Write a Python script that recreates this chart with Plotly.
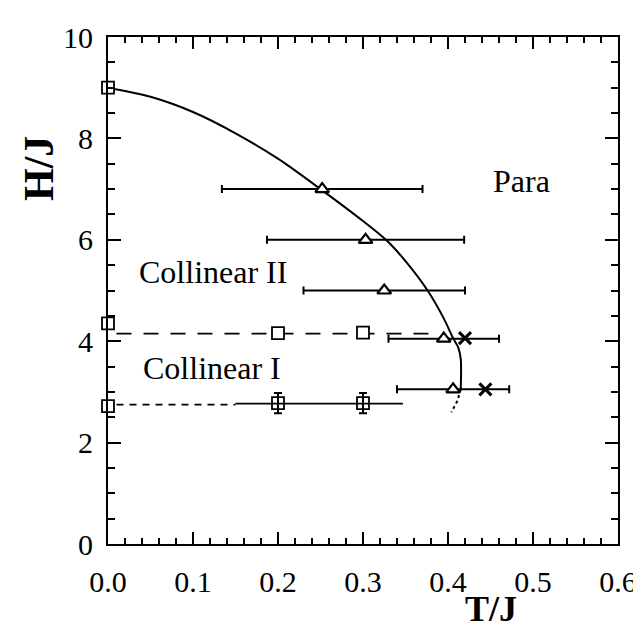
import plotly.graph_objects as go

# ---- data ----
# phase boundary (solid curve) and its dotted tail
curve_T = [0.0, 0.05, 0.10, 0.15, 0.20, 0.25, 0.30, 0.327, 0.35, 0.376, 0.395, 0.406, 0.412, 0.415, 0.415]
curve_H = [9.0, 8.82, 8.52, 8.1, 7.6, 7.0, 6.37, 6.0, 5.58, 5.0, 4.45, 4.06, 3.88, 3.65, 3.05]
tail_T = [0.415, 0.411, 0.404]
tail_H = [3.05, 2.82, 2.6]

# triangles with horizontal error bars
tri_T = [0.252, 0.303, 0.325, 0.395, 0.406]
tri_H = [7.0, 6.0, 5.0, 4.05, 3.05]
tri_err = [0.118, 0.116, 0.095, 0.065, 0.066]

# crosses
cross_T = [0.42, 0.444]
cross_H = [4.06, 3.05]

# squares at T = 0
sq0_T = [0.0, 0.0, 0.0]
sq0_H = [9.0, 4.35, 2.72]

# squares on the upper dashed line
sqA_T = [0.2, 0.3]
sqA_H = [4.16, 4.17]

# squares with vertical error bars on the lower line
sqB_T = [0.2, 0.3]
sqB_H = [2.78, 2.78]
sqB_err = [0.2, 0.2]

# guide lines
dashA_T = [0.01, 0.38]
dashA_H = [4.15, 4.15]
dashB_T = [0.01, 0.15]
dashB_H = [2.75, 2.75]
solidB_T = [0.15, 0.347]
solidB_H = [2.77, 2.77]

# region labels
label_text = ["Para", "Collinear II", "Collinear I"]
label_T = [0.486, 0.123, 0.122]
label_H = [7.15, 5.36, 3.48]

x_ticks = [0.0, 0.1, 0.2, 0.3, 0.4, 0.5, 0.6]
x_ticktext = ["0.0", "0.1", "0.2", "0.3", "0.4", "0.5", "0.6"]
y_ticks = [0, 2, 4, 6, 8, 10]

FONT = "Liberation Serif"
BLACK = "black"

fig = go.Figure()

fig.add_trace(go.Scatter(x=dashA_T, y=dashA_H, mode="lines",
                         line=dict(color=BLACK, width=1.8, dash="15px,12px")))
fig.add_trace(go.Scatter(x=dashB_T, y=dashB_H, mode="lines",
                         line=dict(color=BLACK, width=1.8, dash="7px,6px")))
fig.add_trace(go.Scatter(x=solidB_T, y=solidB_H, mode="lines",
                         line=dict(color=BLACK, width=1.8)))
fig.add_trace(go.Scatter(x=curve_T, y=curve_H, mode="lines",
                         line=dict(color=BLACK, width=2, shape="spline", smoothing=0.8),
                         cliponaxis=False))
fig.add_trace(go.Scatter(x=tail_T, y=tail_H, mode="lines",
                         line=dict(color=BLACK, width=2, dash="dot")))

fig.add_trace(go.Scatter(
    x=tri_T, y=tri_H, mode="markers",
    marker=dict(symbol="triangle-up", size=12, color="white",
                line=dict(color=BLACK, width=2.2)),
    error_x=dict(type="data", array=tri_err, color=BLACK, thickness=2, width=4)))

fig.add_trace(go.Scatter(
    x=cross_T, y=cross_H, mode="markers",
    marker=dict(symbol="x-thin", size=12, line=dict(color=BLACK, width=3))))

fig.add_trace(go.Scatter(
    x=sq0_T, y=sq0_H, mode="markers", cliponaxis=False,
    marker=dict(symbol="square", size=12, color="white",
                line=dict(color=BLACK, width=1.8))))
fig.add_trace(go.Scatter(
    x=sqA_T, y=sqA_H, mode="markers",
    marker=dict(symbol="square", size=12, color="white",
                line=dict(color=BLACK, width=1.8))))
fig.add_trace(go.Scatter(
    x=sqB_T, y=sqB_H, mode="markers",
    marker=dict(symbol="square-open", size=12, color=BLACK,
                line=dict(color=BLACK, width=1.8)),
    error_y=dict(type="data", array=sqB_err, color=BLACK, thickness=2, width=4)))

for t, x, y in zip(label_text, label_T, label_H):
    fig.add_annotation(x=x, y=y, text=t, showarrow=False,
                       font=dict(family=FONT, size=32, color=BLACK))

fig.add_annotation(xref="paper", yref="paper", x=0.75, y=-0.128, text="<b>T/J</b>",
                   showarrow=False, xanchor="center", yanchor="middle",
                   font=dict(family=FONT, size=36, color=BLACK))
fig.add_annotation(xref="paper", yref="paper", x=-0.135, y=0.74, text="<b>H/J</b>",
                   showarrow=False, xanchor="center", yanchor="middle", textangle=-90,
                   font=dict(family=FONT, size=42, color=BLACK))

axis_common = dict(showline=True, linecolor=BLACK, linewidth=2, mirror="allticks",
                   ticks="inside", tickwidth=2, tickcolor=BLACK, showgrid=False,
                   zeroline=False, tickfont=dict(family=FONT, size=30, color=BLACK))

fig.update_xaxes(range=[0, 0.6], tickvals=x_ticks, ticktext=x_ticktext, ticklen=12,
                 minor=dict(dtick=0.02, ticks="inside", ticklen=6, tickwidth=1.5,
                            tickcolor=BLACK, showgrid=False),
                 ticklabelstandoff=10, **axis_common)
fig.update_yaxes(range=[0, 10], tickvals=y_ticks, ticklen=13,
                 minor=dict(dtick=0.5, ticks="inside", ticklen=7, tickwidth=1.5,
                            tickcolor=BLACK, showgrid=False),
                 ticklabelstandoff=7, **axis_common)

fig.update_layout(width=641, height=634, showlegend=False,
                  paper_bgcolor="white", plot_bgcolor="white",
                  margin=dict(l=100, r=24, t=21, b=98),
                  font=dict(family=FONT, color=BLACK))

fig.write_html("out.html")
